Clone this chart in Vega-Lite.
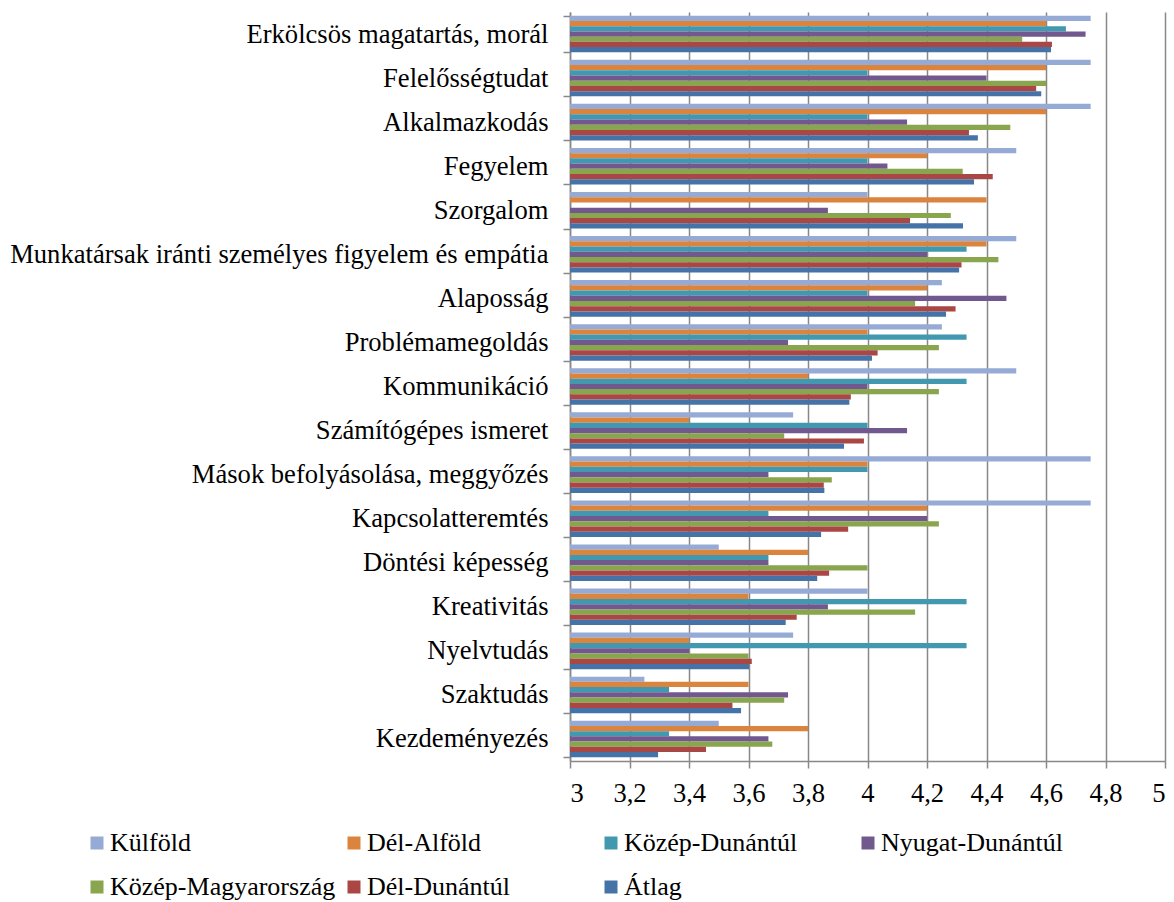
{
  "$schema": "https://vega.github.io/schema/vega-lite/v6.json",
  "width": 595,
  "height": 749,
  "autosize": {"type": "none"},
  "padding": {"left": 570, "top": 12, "right": 9, "bottom": 141},
  "background": "white",
  "config": {
    "view": {"stroke": null},
    "font": "Liberation Serif",
    "axis": {"labelFont": "Liberation Serif", "labelFontSize": 26.6, "labelColor": "black", "domainColor": "#888888", "tickColor": "#888888", "domainWidth": 1.5, "tickWidth": 1.5},
    "legend": {"labelFont": "Liberation Serif", "labelFontSize": 26, "labelColor": "black", "labelLimit": 0}
  },
  "data": {
    "values": [
      {"skill": "Erkölcsös magatartás, morál", "region": "Külföld", "value": 4.75},
      {"skill": "Erkölcsös magatartás, morál", "region": "Dél-Alföld", "value": 4.6},
      {"skill": "Erkölcsös magatartás, morál", "region": "Közép-Dunántúl", "value": 4.667},
      {"skill": "Erkölcsös magatartás, morál", "region": "Nyugat-Dunántúl", "value": 4.733},
      {"skill": "Erkölcsös magatartás, morál", "region": "Közép-Magyarország", "value": 4.52},
      {"skill": "Erkölcsös magatartás, morál", "region": "Dél-Dunántúl", "value": 4.62},
      {"skill": "Erkölcsös magatartás, morál", "region": "Átlag", "value": 4.617},

      {"skill": "Felelősségtudat", "region": "Külföld", "value": 4.75},
      {"skill": "Felelősségtudat", "region": "Dél-Alföld", "value": 4.6},
      {"skill": "Felelősségtudat", "region": "Közép-Dunántúl", "value": 4.0},
      {"skill": "Felelősségtudat", "region": "Nyugat-Dunántúl", "value": 4.4},
      {"skill": "Felelősségtudat", "region": "Közép-Magyarország", "value": 4.6},
      {"skill": "Felelősségtudat", "region": "Dél-Dunántúl", "value": 4.567},
      {"skill": "Felelősségtudat", "region": "Átlag", "value": 4.584},

      {"skill": "Alkalmazkodás", "region": "Külföld", "value": 4.75},
      {"skill": "Alkalmazkodás", "region": "Dél-Alföld", "value": 4.6},
      {"skill": "Alkalmazkodás", "region": "Közép-Dunántúl", "value": 4.0},
      {"skill": "Alkalmazkodás", "region": "Nyugat-Dunántúl", "value": 4.133},
      {"skill": "Alkalmazkodás", "region": "Közép-Magyarország", "value": 4.48},
      {"skill": "Alkalmazkodás", "region": "Dél-Dunántúl", "value": 4.341},
      {"skill": "Alkalmazkodás", "region": "Átlag", "value": 4.371},

      {"skill": "Fegyelem", "region": "Külföld", "value": 4.5},
      {"skill": "Fegyelem", "region": "Dél-Alföld", "value": 4.2},
      {"skill": "Fegyelem", "region": "Közép-Dunántúl", "value": 4.0},
      {"skill": "Fegyelem", "region": "Nyugat-Dunántúl", "value": 4.067},
      {"skill": "Fegyelem", "region": "Közép-Magyarország", "value": 4.32},
      {"skill": "Fegyelem", "region": "Dél-Dunántúl", "value": 4.421},
      {"skill": "Fegyelem", "region": "Átlag", "value": 4.358},

      {"skill": "Szorgalom", "region": "Külföld", "value": 4.0},
      {"skill": "Szorgalom", "region": "Dél-Alföld", "value": 4.4},
      {"skill": "Szorgalom", "region": "Nyugat-Dunántúl", "value": 3.867},
      {"skill": "Szorgalom", "region": "Közép-Magyarország", "value": 4.28},
      {"skill": "Szorgalom", "region": "Dél-Dunántúl", "value": 4.143},
      {"skill": "Szorgalom", "region": "Átlag", "value": 4.321},

      {"skill": "Munkatársak iránti személyes figyelem és empátia", "region": "Külföld", "value": 4.5},
      {"skill": "Munkatársak iránti személyes figyelem és empátia", "region": "Dél-Alföld", "value": 4.4},
      {"skill": "Munkatársak iránti személyes figyelem és empátia", "region": "Közép-Dunántúl", "value": 4.333},
      {"skill": "Munkatársak iránti személyes figyelem és empátia", "region": "Nyugat-Dunántúl", "value": 4.2},
      {"skill": "Munkatársak iránti személyes figyelem és empátia", "region": "Közép-Magyarország", "value": 4.44},
      {"skill": "Munkatársak iránti személyes figyelem és empátia", "region": "Dél-Dunántúl", "value": 4.316},
      {"skill": "Munkatársak iránti személyes figyelem és empátia", "region": "Átlag", "value": 4.308},

      {"skill": "Alaposság", "region": "Külföld", "value": 4.25},
      {"skill": "Alaposság", "region": "Dél-Alföld", "value": 4.2},
      {"skill": "Alaposság", "region": "Közép-Dunántúl", "value": 4.0},
      {"skill": "Alaposság", "region": "Nyugat-Dunántúl", "value": 4.467},
      {"skill": "Alaposság", "region": "Közép-Magyarország", "value": 4.16},
      {"skill": "Alaposság", "region": "Dél-Dunántúl", "value": 4.296},
      {"skill": "Alaposság", "region": "Átlag", "value": 4.264},

      {"skill": "Problémamegoldás", "region": "Külföld", "value": 4.25},
      {"skill": "Problémamegoldás", "region": "Dél-Alföld", "value": 4.0},
      {"skill": "Problémamegoldás", "region": "Közép-Dunántúl", "value": 4.333},
      {"skill": "Problémamegoldás", "region": "Nyugat-Dunántúl", "value": 3.733},
      {"skill": "Problémamegoldás", "region": "Közép-Magyarország", "value": 4.24},
      {"skill": "Problémamegoldás", "region": "Dél-Dunántúl", "value": 4.034},
      {"skill": "Problémamegoldás", "region": "Átlag", "value": 4.015},

      {"skill": "Kommunikáció", "region": "Külföld", "value": 4.5},
      {"skill": "Kommunikáció", "region": "Dél-Alföld", "value": 3.8},
      {"skill": "Kommunikáció", "region": "Közép-Dunántúl", "value": 4.333},
      {"skill": "Kommunikáció", "region": "Nyugat-Dunántúl", "value": 4.0},
      {"skill": "Kommunikáció", "region": "Közép-Magyarország", "value": 4.24},
      {"skill": "Kommunikáció", "region": "Dél-Dunántúl", "value": 3.944},
      {"skill": "Kommunikáció", "region": "Átlag", "value": 3.939},

      {"skill": "Számítógépes ismeret", "region": "Külföld", "value": 3.75},
      {"skill": "Számítógépes ismeret", "region": "Dél-Alföld", "value": 3.4},
      {"skill": "Számítógépes ismeret", "region": "Közép-Dunántúl", "value": 4.0},
      {"skill": "Számítógépes ismeret", "region": "Nyugat-Dunántúl", "value": 4.133},
      {"skill": "Számítógépes ismeret", "region": "Közép-Magyarország", "value": 3.72},
      {"skill": "Számítógépes ismeret", "region": "Dél-Dunántúl", "value": 3.988},
      {"skill": "Számítógépes ismeret", "region": "Átlag", "value": 3.921},

      {"skill": "Mások befolyásolása, meggyőzés", "region": "Külföld", "value": 4.75},
      {"skill": "Mások befolyásolása, meggyőzés", "region": "Dél-Alföld", "value": 4.0},
      {"skill": "Mások befolyásolása, meggyőzés", "region": "Közép-Dunántúl", "value": 4.0},
      {"skill": "Mások befolyásolása, meggyőzés", "region": "Nyugat-Dunántúl", "value": 3.667},
      {"skill": "Mások befolyásolása, meggyőzés", "region": "Közép-Magyarország", "value": 3.88},
      {"skill": "Mások befolyásolása, meggyőzés", "region": "Dél-Dunántúl", "value": 3.853},
      {"skill": "Mások befolyásolása, meggyőzés", "region": "Átlag", "value": 3.855},

      {"skill": "Kapcsolatteremtés", "region": "Külföld", "value": 4.75},
      {"skill": "Kapcsolatteremtés", "region": "Dél-Alföld", "value": 4.2},
      {"skill": "Kapcsolatteremtés", "region": "Közép-Dunántúl", "value": 3.667},
      {"skill": "Kapcsolatteremtés", "region": "Nyugat-Dunántúl", "value": 4.2},
      {"skill": "Kapcsolatteremtés", "region": "Közép-Magyarország", "value": 4.24},
      {"skill": "Kapcsolatteremtés", "region": "Dél-Dunántúl", "value": 3.935},
      {"skill": "Kapcsolatteremtés", "region": "Átlag", "value": 3.844},

      {"skill": "Döntési képesség", "region": "Külföld", "value": 3.5},
      {"skill": "Döntési képesség", "region": "Dél-Alföld", "value": 3.8},
      {"skill": "Döntési képesség", "region": "Közép-Dunántúl", "value": 3.667},
      {"skill": "Döntési képesség", "region": "Nyugat-Dunántúl", "value": 3.667},
      {"skill": "Döntési képesség", "region": "Közép-Magyarország", "value": 4.0},
      {"skill": "Döntési képesség", "region": "Dél-Dunántúl", "value": 3.871},
      {"skill": "Döntési képesség", "region": "Átlag", "value": 3.831},

      {"skill": "Kreativitás", "region": "Külföld", "value": 4.0},
      {"skill": "Kreativitás", "region": "Dél-Alföld", "value": 3.6},
      {"skill": "Kreativitás", "region": "Közép-Dunántúl", "value": 4.333},
      {"skill": "Kreativitás", "region": "Nyugat-Dunántúl", "value": 3.867},
      {"skill": "Kreativitás", "region": "Közép-Magyarország", "value": 4.16},
      {"skill": "Kreativitás", "region": "Dél-Dunántúl", "value": 3.762},
      {"skill": "Kreativitás", "region": "Átlag", "value": 3.725},

      {"skill": "Nyelvtudás", "region": "Külföld", "value": 3.75},
      {"skill": "Nyelvtudás", "region": "Dél-Alföld", "value": 3.4},
      {"skill": "Nyelvtudás", "region": "Közép-Dunántúl", "value": 4.333},
      {"skill": "Nyelvtudás", "region": "Nyugat-Dunántúl", "value": 3.4},
      {"skill": "Nyelvtudás", "region": "Közép-Magyarország", "value": 3.6},
      {"skill": "Nyelvtudás", "region": "Dél-Dunántúl", "value": 3.611},
      {"skill": "Nyelvtudás", "region": "Átlag", "value": 3.602},

      {"skill": "Szaktudás", "region": "Külföld", "value": 3.25},
      {"skill": "Szaktudás", "region": "Dél-Alföld", "value": 3.6},
      {"skill": "Szaktudás", "region": "Közép-Dunántúl", "value": 3.333},
      {"skill": "Szaktudás", "region": "Nyugat-Dunántúl", "value": 3.733},
      {"skill": "Szaktudás", "region": "Közép-Magyarország", "value": 3.72},
      {"skill": "Szaktudás", "region": "Dél-Dunántúl", "value": 3.546},
      {"skill": "Szaktudás", "region": "Átlag", "value": 3.575},

      {"skill": "Kezdeményezés", "region": "Külföld", "value": 3.5},
      {"skill": "Kezdeményezés", "region": "Dél-Alföld", "value": 3.8},
      {"skill": "Kezdeményezés", "region": "Közép-Dunántúl", "value": 3.333},
      {"skill": "Kezdeményezés", "region": "Nyugat-Dunántúl", "value": 3.667},
      {"skill": "Kezdeményezés", "region": "Közép-Magyarország", "value": 3.68},
      {"skill": "Kezdeményezés", "region": "Dél-Dunántúl", "value": 3.457},
      {"skill": "Kezdeményezés", "region": "Átlag", "value": 3.296}
    ]
  },
  "mark": {"type": "bar"},
  "encoding": {
    "y": {
      "field": "skill", "type": "nominal", "sort": null,
      "scale": {"paddingInner": 0.17, "paddingOuter": 0.085},
      "axis": {"title": null, "tickBand": "extent", "tickSize": 7, "labelPadding": 15, "grid": false, "labelLimit": 0}
    },
    "yOffset": {
      "field": "region", "type": "nominal",
      "sort": ["Külföld", "Dél-Alföld", "Közép-Dunántúl", "Nyugat-Dunántúl", "Közép-Magyarország", "Dél-Dunántúl", "Átlag"],
      "scale": {"paddingInner": 0, "paddingOuter": 0}
    },
    "x": {
      "field": "value", "type": "quantitative",
      "scale": {"domain": [3, 5], "zero": false, "nice": false},
      "axis": {"title": null, "values": [3, 3.2, 3.4, 3.6, 3.8, 4, 4.2, 4.4, 4.6, 4.8, 5], "labelExpr": "replace(format(datum.value, '.1~f'), '.', ',')", "grid": true, "gridColor": "#888888", "gridWidth": 1.5, "tickSize": 7, "labelPadding": 12}
    },
    "x2": {"datum": 3},
    "color": {
      "field": "region", "type": "nominal",
      "sort": ["Külföld", "Dél-Alföld", "Közép-Dunántúl", "Nyugat-Dunántúl", "Közép-Magyarország", "Dél-Dunántúl", "Átlag"],
      "scale": {
        "domain": ["Külföld", "Dél-Alföld", "Közép-Dunántúl", "Nyugat-Dunántúl", "Közép-Magyarország", "Dél-Dunántúl", "Átlag"],
        "range": ["#95ABD5", "#DB843D", "#4198AF", "#71588F", "#89A54E", "#AA4643", "#4572A7"]
      },
      "legend": {
        "title": null, "orient": "none", "legendX": -486, "legendY": 818, "direction": "horizontal",
        "columns": 4, "gridAlign": "all", "columnPadding": 5, "rowPadding": 18,
        "symbolType": "square", "symbolSize": 169, "symbolStrokeWidth": 0, "labelOffset": 0
      }
    }
  }
}
